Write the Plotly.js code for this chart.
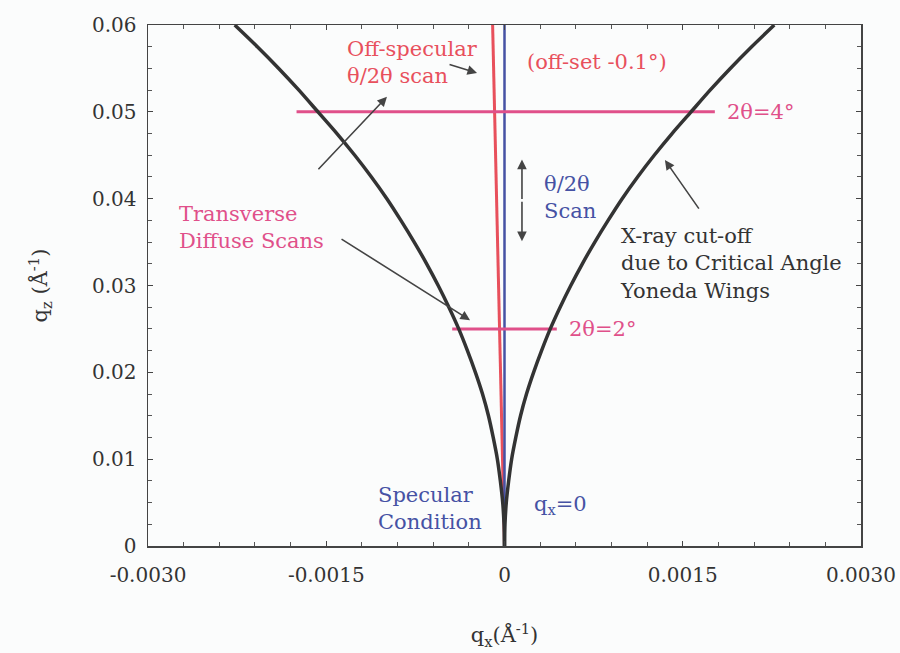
<!DOCTYPE html>
<html>
<head>
<meta charset="utf-8">
<script src="https://cdn.plot.ly/plotly-3.0.1.min.js"></script>
<style>html,body{margin:0;padding:0;background:#fbfcfc;}#chart{width:900px;height:653px;}</style>
</head>
<body>
<div id="chart"></div>
<script>
// Yoneda cut-off curves
const cutoffQz = [0, 0.0025, 0.005, 0.0075, 0.01, 0.0125, 0.015, 0.0175, 0.02, 0.0225, 0.025, 0.0275, 0.03, 0.0325, 0.035, 0.0375, 0.04, 0.0425, 0.045, 0.0475, 0.05, 0.0525, 0.055, 0.0575, 0.06];
const cutoffQxRight = [0, 0.000004, 0.000015, 0.000035, 0.00006, 0.000095, 0.000135, 0.000185, 0.000245, 0.000312, 0.000385, 0.000468, 0.000558, 0.000655, 0.00076, 0.000872, 0.00099, 0.00112, 0.00126, 0.00141, 0.00157, 0.00173, 0.0019, 0.00208, 0.00227];
const cutoffQxLeft = [0, -0.000004, -0.000015, -0.000035, -0.00006, -0.000095, -0.000135, -0.000185, -0.000245, -0.000312, -0.000385, -0.000468, -0.000558, -0.000655, -0.00076, -0.000872, -0.00099, -0.00112, -0.00126, -0.00141, -0.00157, -0.00173, -0.0019, -0.00208, -0.00227];
// specular (qx = 0) scan
const specQx = [0, 0];
const specQz = [0, 0.06];
// off-specular scan (offset -0.1 deg)
const offQx = [0, -0.0001];
const offQz = [0, 0.06];
// transverse diffuse scans
const trans4Qx = [-0.00175, 0.00177];
const trans4Qz = [0.05, 0.05];
const trans2Qx = [-0.00044, 0.00044];
const trans2Qz = [0.025, 0.025];
// axis ticks
const xTickVals = [-0.003, -0.0015, 0, 0.0015, 0.003];
const xTickText = ['-0.0030', '-0.0015', '0', '0.0015', '0.0030'];
const yTickVals = [0, 0.01, 0.02, 0.03, 0.04, 0.05, 0.06];
const yTickText = ['0', '0.01', '0.02', '0.03', '0.04', '0.05', '0.06'];

const RED = '#e8505c', PINK = '#e0508a', BLUE = '#4652a4', DARK = '#333333', ARROW = '#444444';
const FONT = 'DejaVu Serif';

const traces = [
  {x: offQx, y: offQz, mode: 'lines', line: {color: RED, width: 3}},
  {x: specQx, y: specQz, mode: 'lines', line: {color: BLUE, width: 2.5}},
  {x: trans4Qx, y: trans4Qz, mode: 'lines', line: {color: PINK, width: 3}},
  {x: trans2Qx, y: trans2Qz, mode: 'lines', line: {color: PINK, width: 3}},
  {x: cutoffQxLeft, y: cutoffQz, mode: 'lines', line: {color: DARK, width: 3.5, shape: 'spline', smoothing: 0.6}},
  {x: cutoffQxRight, y: cutoffQz, mode: 'lines', line: {color: DARK, width: 3.5, shape: 'spline', smoothing: 0.6}}
];

function txt(x, y, text, color, extra) {
  return Object.assign({x: x, y: y, xref: 'x', yref: 'y', text: text, showarrow: false,
    xanchor: 'left', yanchor: 'middle', align: 'left', font: {family: FONT, size: 21, color: color}}, extra || {});
}
function arr(x, y, ax, ay) {
  return {x: x, y: y, xref: 'x', yref: 'y', text: '', showarrow: true, ax: ax, ay: ay,
    arrowhead: 2, arrowsize: 1.2, arrowwidth: 1.6, arrowcolor: ARROW};
}

const annotations = [
  txt(-0.00134, 0.0557, 'Off-specular<br>θ/2θ scan', RED),
  txt(0.000172, 0.0557, '(off-set -0.1°)', RED),
  arr(-0.000231, 0.05447, -29, -9),
  txt(0.001855, 0.05, '2θ=4°', PINK),
  txt(0.000526, 0.025, '2θ=2°', PINK),
  txt(0.000316, 0.0401, 'θ/2θ<br>Scan', BLUE),
  arr(0.000147, 0.0445, 0, 41),
  arr(0.000147, 0.0351, 0, -41),
  txt(0.000955, 0.03256, 'X-ray cut-off<br>due to Critical Angle<br>Yoneda Wings', DARK),
  arr(0.00135, 0.04444, 35, 50),
  txt(-0.002756, 0.03672, 'Transverse<br>Diffuse Scans', PINK),
  arr(-0.000989, 0.05174, -70, 74),
  arr(-0.00029, 0.02601, -130, -82),
  txt(-0.00108, 0.00434, 'Specular<br>Condition', BLUE),
  txt(0.000231, 0.0047, 'q<sub>x</sub>=0', BLUE)
];

const layout = {
  width: 900, height: 653,
  margin: {l: 148, r: 39, t: 25, b: 107},
  paper_bgcolor: '#fbfcfc', plot_bgcolor: '#fbfcfc',
  showlegend: false,
  font: {family: FONT, size: 21, color: '#333'},
  xaxis: {
    range: [-0.003, 0.003], tickvals: xTickVals, ticktext: xTickText, ticklabeloverflow: 'allow',
    ticklabelstandoff: 10,
    showgrid: false, zeroline: false, showline: true, linecolor: '#444', linewidth: 1.5, mirror: 'ticks',
    ticks: 'inside', ticklen: 5, tickcolor: '#444',
    minor: {dtick: 0.0003, ticks: 'inside', ticklen: 4, tickcolor: '#555', showgrid: false},
    tickfont: {family: FONT, size: 20, color: '#333'},
    title: {text: 'q<sub>x</sub>(Å<sup>-1</sup>)', standoff: 42, font: {family: FONT, size: 21, color: '#333'}}
  },
  yaxis: {
    range: [0, 0.06], tickvals: yTickVals, ticktext: yTickText,
    ticklabelstandoff: 6,
    showgrid: false, zeroline: false, showline: true, linecolor: '#444', linewidth: 1.5, mirror: 'ticks',
    ticks: 'inside', ticklen: 5, tickcolor: '#444',
    minor: {dtick: 0.0025, ticks: 'inside', ticklen: 4, tickcolor: '#555', showgrid: false},
    tickfont: {family: FONT, size: 20, color: '#333'},
    title: {text: 'q<sub>z</sub> (Å<sup>-1</sup>)', standoff: 38, font: {family: FONT, size: 21, color: '#333'}}
  },
  annotations: annotations
};

Plotly.newPlot('chart', traces, layout, {displayModeBar: false, staticPlot: true});
</script>
</body>
</html>
